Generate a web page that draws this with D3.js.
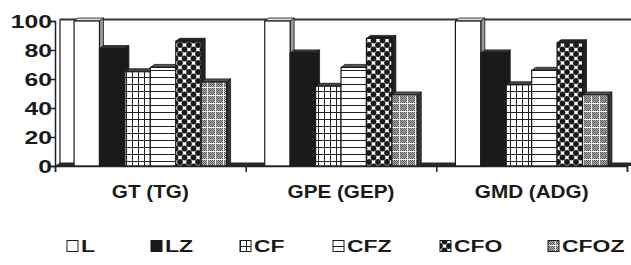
<!DOCTYPE html>
<html>
<head>
<meta charset="utf-8">
<script src="https://cdn.jsdelivr.net/npm/d3@7"></script>
<style>
body{margin:0;background:#fff}
svg{display:block}
text{font-family:"Liberation Sans",Arial,sans-serif;font-weight:bold;fill:#1a1a1a}
</style>
</head>
<body>
<div id="chart"></div>
<script>
// values
const groups=["GT (TG)","GPE (GEP)","GMD (ADG)"];
const series=["L","LZ","CF","CFZ","CFO","CFOZ"];
const valL=[100,100,100];
const valLZ=[81,78,78];
const valCF=[65,55,56];
const valCFZ=[68,68,66];
const valCFO=[86,88,85];
const valCFOZ=[58,49,49];
const yTicks=[0,20,40,60,80,100];
const allVals=[valL,valLZ,valCF,valCFZ,valCFO,valCFOZ];

const W=631,H=265;
const plotLeft=55,plotRight=627,plotTop=21,plotBase=166;
const dx=4,dy=3; // fake 3d depth
const sx=1.3;   // the scan is stretched sideways
const legendX=[67,151,240,333,440,548];
const legendY=246;

const svg=d3.select("#chart").append("svg").attr("width",W).attr("height",H);
const defs=svg.append("defs");

// patterns
let p=defs.append("pattern").attr("id","pCF").attr("patternUnits","userSpaceOnUse").attr("width",6).attr("height",7);
p.append("rect").attr("width",6).attr("height",7).attr("fill","#fff");
p.append("path").attr("d","M0 0.5H6M0.5 0V7").attr("stroke","#222").attr("stroke-width",1);

p=defs.append("pattern").attr("id","pCFZ").attr("patternUnits","userSpaceOnUse").attr("width",6).attr("height",7);
p.append("rect").attr("width",6).attr("height",7).attr("fill","#fff");
p.append("path").attr("d","M0 0.5H6").attr("stroke","#222").attr("stroke-width",1);

p=defs.append("pattern").attr("id","pCFO").attr("patternUnits","userSpaceOnUse").attr("width",9).attr("height",9);
p.append("rect").attr("width",9).attr("height",9).attr("fill","#fff");
[[0,0],[9,0],[0,9],[9,9],[4.5,4.5]].forEach(c=>{
  p.append("circle").attr("cx",c[0]).attr("cy",c[1]).attr("r",2.9).attr("fill","#1a1a1a");
});

p=defs.append("pattern").attr("id","pCFOZ").attr("patternUnits","userSpaceOnUse").attr("width",8).attr("height",8);
p.append("rect").attr("width",8).attr("height",8).attr("fill","#b4b4b4");
for(let i=0;i<8;i++){for(let j=0;j<8;j++){
  if((i+j)%2===0) p.append("rect").attr("x",i).attr("y",j).attr("width",1).attr("height",1).attr("fill","#555");
}}
p.append("path").attr("d","M7.5 0V8M0 7.5H8").attr("stroke","#eee").attr("stroke-width",1);

const front={L:"#fff",LZ:"#1a1a1a",CF:"url(#pCF)",CFZ:"url(#pCFZ)",CFO:"url(#pCFO)",CFOZ:"url(#pCFOZ)"};
const side={L:"#9a9a9a",LZ:"#1a1a1a",CF:"#555",CFZ:"#666",CFO:"#222",CFOZ:"#333"};
const cap={L:"#ddd",LZ:"#333",CF:"#444",CFZ:"#555",CFO:"#222",CFOZ:"#555"};

// scales
const y=d3.scaleLinear().domain([0,100]).range([plotBase,plotTop]);
const x0=d3.scaleBand().domain(groups).range([plotLeft,plotRight]);
const x1=d3.scaleBand().domain(series).range([0,x0.bandwidth()]).paddingOuter(0.75);
const xEdge=d3.scaleLinear().domain([0,groups.length]).range([plotLeft,plotRight]);

// back wall and floor
svg.append("line").attr("x1",plotLeft+5).attr("x2",W).attr("y1",19.5).attr("y2",19.5)
  .attr("stroke","#333").attr("stroke-width",2);
svg.append("line").attr("x1",plotLeft+5).attr("x2",plotLeft+5).attr("y1",19).attr("y2",plotBase-3)
  .attr("stroke","#444").attr("stroke-width",1.5);
svg.append("path").attr("d",`M${plotLeft},${plotBase}L${plotLeft+5},${plotBase-3.5}H${W}V${plotBase}Z`)
  .attr("fill","#2a2a2a");

// bars
const rows=[];
groups.forEach((g,i)=>{
  series.forEach((s,j)=>rows.push({g:g,s:s,v:allVals[j][i]}));
});
const bw=x1.bandwidth();
const bar=svg.append("g").selectAll("g").data(rows).join("g");
bar.append("path")
  .attr("d",d=>{const xa=x0(d.g)+x1(d.s)+bw, ya=y(d.v);
    return `M${xa},${ya}L${xa+dx},${ya-dy}V${plotBase-dy}L${xa},${plotBase}Z`;})
  .attr("fill",d=>side[d.s]).attr("stroke","#1a1a1a").attr("stroke-width",0.8);
bar.append("path")
  .attr("d",d=>{const xa=x0(d.g)+x1(d.s), ya=y(d.v);
    return `M${xa},${ya}L${xa+dx},${ya-dy}H${xa+bw+dx}L${xa+bw},${ya}Z`;})
  .attr("fill",d=>cap[d.s]).attr("stroke","#1a1a1a").attr("stroke-width",0.8);
bar.append("rect")
  .attr("x",d=>x0(d.g)+x1(d.s)).attr("y",d=>y(d.v))
  .attr("width",bw).attr("height",d=>plotBase-y(d.v))
  .attr("fill",d=>front[d.s]).attr("stroke","#1a1a1a").attr("stroke-width",1.2);

// y axis
const yAx=svg.append("g").attr("transform",`translate(${plotLeft},0)`)
  .call(d3.axisLeft(y).tickValues(yTicks).tickSize(4).tickPadding(0));
yAx.select(".domain").attr("stroke","#222").attr("stroke-width",1.5);
yAx.selectAll(".tick line").attr("stroke","#222").attr("stroke-width",1.5);
yAx.selectAll("text").style("font-size","19px").attr("x",-3/sx)
  .attr("transform",`scale(${sx},1)`);

// x axis: boundary ticks and category labels
const xAx=svg.append("g").attr("transform",`translate(0,${plotBase})`)
  .call(d3.axisBottom(xEdge).ticks(groups.length).tickFormat("").tickSize(6));
xAx.select(".domain").attr("stroke","#222").attr("stroke-width",1.5);
xAx.selectAll(".tick line").attr("stroke","#222").attr("stroke-width",1.5);

const xLab=svg.append("g").attr("transform",`translate(0,${plotBase})`)
  .call(d3.axisBottom(x0).tickSize(0).tickPadding(19));
xLab.select(".domain").remove();
xLab.selectAll(".tick text").style("font-size","18px").attr("transform","scale(1.15,1)");

// legend
const lg=svg.append("g").attr("transform",`translate(0,${legendY})`);
series.forEach((s,i)=>{
  const it=lg.append("g").attr("transform",`translate(${legendX[i]},0)`);
  it.append("rect").attr("x",0).attr("y",-5.5).attr("width",11).attr("height",11)
    .attr("fill",front[s]).attr("stroke","#1a1a1a").attr("stroke-width",1);
  it.append("text").attr("x",14/1.35).attr("dy","0.36em").style("font-size","17px")
    .attr("transform","scale(1.35,1)").text(s);
});
</script>
</body>
</html>
